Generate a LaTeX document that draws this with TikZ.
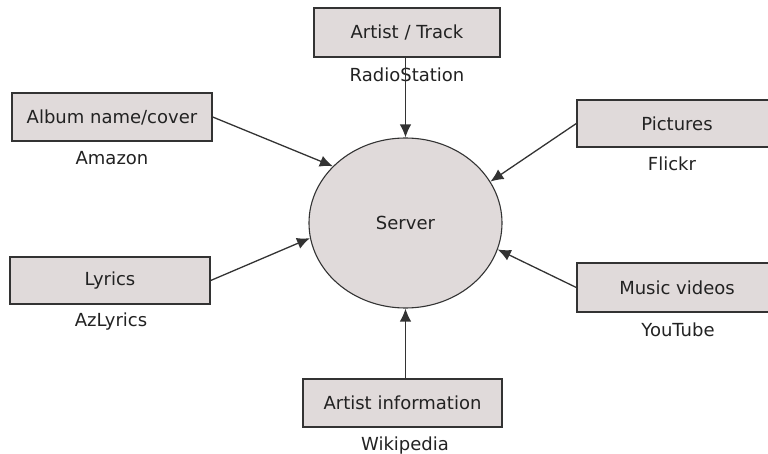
\documentclass[tikz,border=0pt]{standalone}
\usepackage{fontspec}
\setmainfont{DejaVu Sans}
\usetikzlibrary{shapes.geometric,arrows.meta}
\definecolor{boxfill}{HTML}{E0DADA}
\definecolor{edge}{HTML}{333333}
\definecolor{txt}{HTML}{222222}
\begin{document}
\begin{tikzpicture}[x=1pt,y=-1pt,
  every node/.style={font=\fontsize{18}{21}\selectfont, text=txt},
  srcbox/.style={draw=edge, line width=1.4pt, fill=boxfill, rectangle, inner sep=0pt},
  srv/.style={draw=edge, line width=1.1pt, fill=boxfill, ellipse, inner sep=0pt, minimum width=193pt, minimum height=170pt},
  lbl/.style={inner sep=0pt},
  arr/.style={draw=edge, line width=1.3pt, -{Latex[length=13pt,width=11.5pt]}}]
\useasboundingbox (0,0) rectangle (768,454);
\clip (0,0) rectangle (768,454);
\node[srv] (server) at (405.5,223) {Server};
\node[srcbox, minimum width=186pt, minimum height=49pt] (track) at (407,32.5) {Artist / Track};
\node[lbl] (tracklbl) at (407,75) {RadioStation};
\node[srcbox, minimum width=200pt, minimum height=48pt] (album) at (112,117) {Album name/cover};
\node[lbl] (albumlbl) at (112,158) {Amazon};
\node[srcbox, minimum width=200pt, minimum height=47pt] (pictures) at (677,123.5) {Pictures};
\node[lbl] (pictureslbl) at (672,164) {Flickr};
\node[srcbox, minimum width=200pt, minimum height=47pt] (lyrics) at (110,280.5) {Lyrics};
\node[lbl] (lyricslbl) at (111,322) {AzLyrics};
\node[srcbox, minimum width=200pt, minimum height=49pt] (videos) at (677,287.5) {Music videos};
\node[lbl] (videoslbl) at (678,330) {YouTube};
\node[srcbox, minimum width=199pt, minimum height=48pt] (info) at (402.5,403) {Artist information};
\node[lbl] (infolbl) at (405,446) {Wikipedia};
\draw[arr] (track.south -| server.north) -- (server.north);
\draw[arr] (album.east) -- (server.142);
\draw[arr] (pictures.west) -- (server.26);
\draw[arr] (lyrics.east) -- (server.189);
\draw[arr] (videos.west) -- (server.-16.8);
\draw[arr] (info.north -| server.south) -- (server.south);
\end{tikzpicture}
\end{document}
